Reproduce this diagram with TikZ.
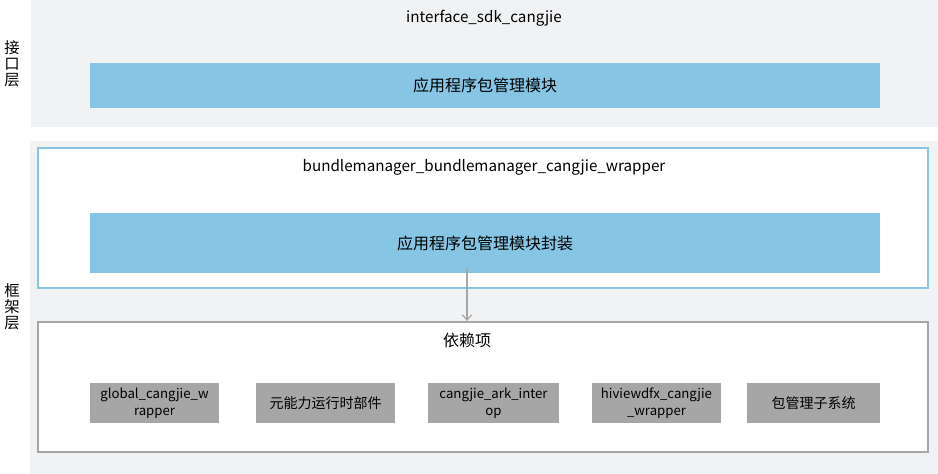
\documentclass[tikz,border=0pt]{standalone}
\usepackage{fontspec}
\setmainfont{Noto Sans CJK SC}
\usetikzlibrary{arrows.meta}
\definecolor{bandgray}{RGB}{241,242,244}
\definecolor{modblue}{RGB}{134,197,227}
\definecolor{depgray}{RGB}{166,166,166}

\begin{document}
\begin{tikzpicture}[x=0.75pt,y=-0.75pt,
	modbox/.style={rectangle,fill=modblue,minimum width=592.5pt,inner sep=0pt,font=\fontsize{12}{14}\selectfont},
	frame/.style={rectangle,draw,fill=white,line width=1.5pt,minimum width=667.5pt,inner sep=0pt},
	depbox/.style={rectangle,fill=depgray,minimum height=30pt,inner sep=0pt,align=center,font=\fontsize{10.5}{13}\selectfont},
	latin/.style={font=\fontsize{9.9}{12.5}\selectfont},
	title/.style={font=\fontsize{11.4}{14}\selectfont,inner sep=0pt},
	side/.style={align=center,font=\fontsize{11.5}{12}\selectfont,inner sep=0pt}]
			\useasboundingbox (0,0) rectangle (938,474);
			
			% layer bands
			\fill[bandgray] (31,0) rectangle (938,127);
			\fill[bandgray] (30,141) rectangle (938,474);
			\node[side] (apilayer) at (12,64) {接\\口\\层};
			\node[side] (fwlayer) at (12,307) {框\\架\\层};
			
			% interface layer
			\node[title] (apititle) at (484,18) {interface\_sdk\_cangjie};
			\node[modbox,minimum height=33.75pt] (apimod) at (485,85.5) {应用程序包管理模块};
			
			% framework layer
			\node[frame,draw=modblue,minimum height=105pt] (wrapper) at (483,218) {};
			\node[title] (wraptitle) at (484,167) {bundlemanager\_bundlemanager\_cangjie\_wrapper};
			\node[modbox,minimum height=45pt] (wrapmod) at (485,243) {应用程序包管理模块封装};
			
			\node[frame,draw=depgray,minimum height=97.5pt] (deps) at (483,387) {};
			\node[title,font=\fontsize{12}{14}\selectfont] (depstitle) at (467,340) {依赖项};
			
			\node[depbox,latin,minimum width=96.75pt] (dep1) at (154.5,403) {global\_cangjie\_w\\rapper};
			\node[depbox,minimum width=104.25pt] (dep2) at (325.5,403) {元能力运行时部件};
			\node[depbox,latin,minimum width=98.25pt] (dep3) at (493.5,403) {cangjie\_ark\_inter\\op};
			\node[depbox,latin,minimum width=96.75pt] (dep4) at (656.5,403) {hiviewdfx\_cangjie\\\_wrapper};
			\node[depbox,minimum width=99.75pt] (dep5) at (813.5,403) {包管理子系统};
			
			\draw[depgray,line width=0.9pt,-{Straight Barb[length=4pt,width=7pt]}] ([xshift=-13.5pt,yshift=3.75pt]wrapmod.south) -- ([xshift=-12pt]deps.north);
\end{tikzpicture}
\end{document}
